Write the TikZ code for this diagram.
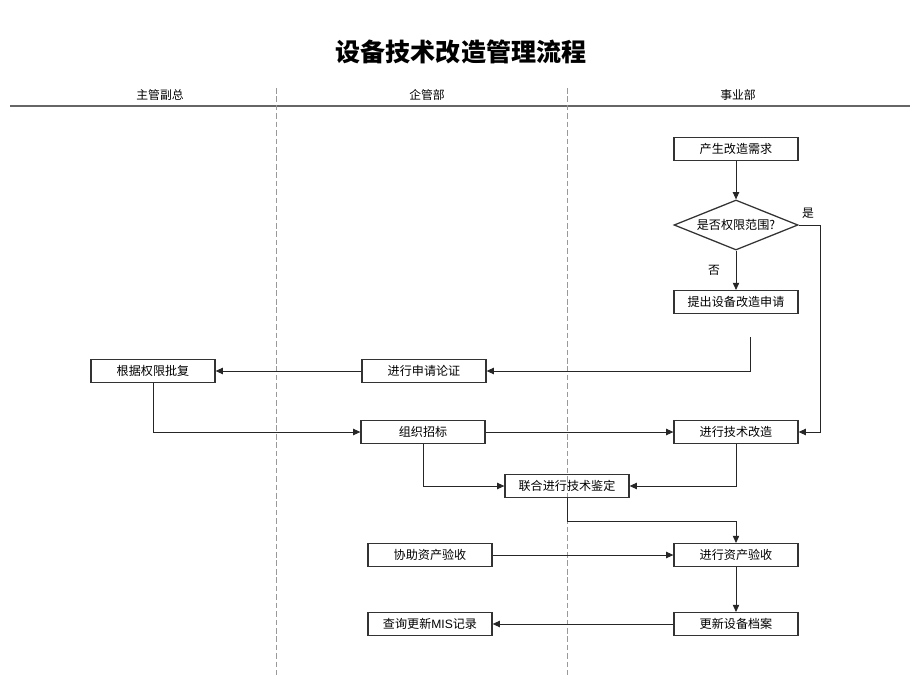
\documentclass[tikz,border=0pt]{standalone}
\usepackage{fontspec}
\newfontfamily\cjk{Noto Sans CJK SC}
\setsansfont{Liberation Sans}
\usetikzlibrary{arrows.meta,positioning,shapes.geometric}
\tikzset{>={Triangle[width=1.6mm,length=1.8mm]}}

\begin{document}
\begin{tikzpicture}[x=0.025cm, y=-0.025cm]
      \tikzstyle{pbox} = [draw=black!80, line width=0.9pt, rectangle, minimum width=3.1cm, minimum height=0.57cm, inner sep=0pt, font=\cjk\fontsize{8.6}{10}\selectfont]
      \tikzstyle{dnode} = [draw=black!80, line width=0.9pt, diamond, aspect=2.5, minimum width=3.1cm, minimum height=1.25cm, inner sep=0pt, font=\cjk\fontsize{8.6}{10}\selectfont]
      \tikzstyle{lane} = [font=\cjk\fontsize{8.4}{10}\selectfont]
      \tikzstyle{flow} = [->, draw=black!85, line width=0.6pt]
      \tikzstyle{sep} = [draw=black!40, line width=0.7pt, dash pattern=on 4pt off 2pt]

      \useasboundingbox (0,0) rectangle (920,690);

      % title and lanes
      \node[font=\cjk\bfseries\fontsize{17.8}{22}\selectfont] (title) at (461,52) {设备技术改造管理流程};
      \node[lane] (l1) at (160,95) {主管副总};
      \node[lane] (l2) at (427,95) {企管部};
      \node[lane] (l3) at (738,95) {事业部};
      \draw[draw=black!60, line width=1.5pt] (10,106) -- (910,106);
      \draw[sep] (276,88) -- (276,675);
      \draw[sep] (567,88) -- (567,675);

      % boxes
      \node[pbox] (xq) at (736,149) {产生改造需求};
      \node[dnode] (dec) at (736,225) {是否权限范围?};
      \node[pbox] (sq) at (736,302) {提出设备改造申请};
      \node[pbox] (lz) at (424,371) {进行申请论证};
      \node[pbox] (pf) at (153,371) {根据权限批复};
      \node[pbox] (zz) at (423,432) {组织招标};
      \node[pbox] (js) at (736,432) {进行技术改造};
      \node[pbox] (lh) at (567,486) {联合进行技术鉴定};
      \node[pbox] (xz) at (430,555) {协助资产验收};
      \node[pbox] (zy) at (736,555) {进行资产验收};
      \node[pbox] (mis) at (430,624) {查询更新{\sffamily MIS}记录};
      \node[pbox] (da) at (736,624) {更新设备档案};

      \node[lane] (yes) at (808,213) {是};
      \node[lane] (no) at (714,270) {否};
      \coordinate (req) at (750,337);

      % connectors
      \draw[flow] (xq) -- (dec);
      \draw[flow] (dec) -- (sq);
      \draw[flow] (dec.east) -- ++(22,0) |- (js);
      \draw[flow] (req) |- (lz);
      \draw[flow] (lz) -- (pf);
      \draw[flow] (pf) |- (zz);
      \draw[flow] (zz) -- (js);
      \draw[flow] (zz) |- (lh);
      \draw[flow] (js) |- (lh);
      \draw[flow] (lh.south) -- ++(0,23) -| (zy);
      \draw[flow] (xz) -- (zy);
      \draw[flow] (zy) -- (da);
      \draw[flow] (da) -- (mis);
\end{tikzpicture}
\end{document}
